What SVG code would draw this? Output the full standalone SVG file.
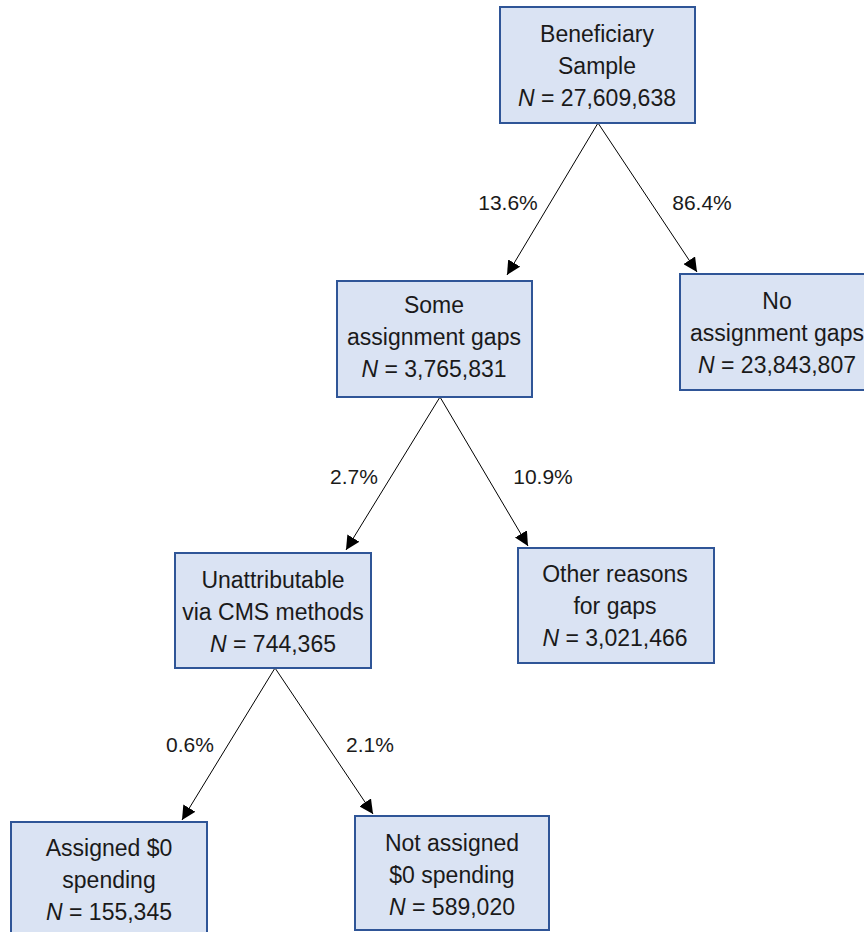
<svg xmlns="http://www.w3.org/2000/svg" width="864" height="932" viewBox="0 0 864 932">
<defs>
<style>
.box{fill:#dae3f3;stroke:#2f5597;stroke-width:2}
.t{font-family:"Liberation Sans",Arial,sans-serif;font-size:23px;fill:#1a1a1a;text-anchor:middle}
.p{font-family:"Liberation Sans",Arial,sans-serif;font-size:21px;fill:#1a1a1a;text-anchor:middle}
.c{stroke:#000;stroke-width:1;fill:none;marker-end:url(#ah)}
</style>
<marker id="ah" viewBox="0 0 10 10" refX="10" refY="5" markerWidth="14" markerHeight="14" markerUnits="userSpaceOnUse" orient="auto">
<path d="M0,0 L10,5 L0,10 z" fill="#000"/>
</marker>
</defs>
<rect width="864" height="932" fill="#fff"/>
<g id="connectors">
<line class="c" x1="598" y1="123" x2="507" y2="275"/>
<line class="c" x1="598" y1="123" x2="697" y2="272"/>
<line class="c" x1="440" y1="397" x2="346" y2="550"/>
<line class="c" x1="440" y1="397" x2="528" y2="546"/>
<line class="c" x1="275" y1="668" x2="182" y2="820"/>
<line class="c" x1="275" y1="668" x2="373" y2="814"/>
<text class="p" x="508" y="210">13.6%</text>
<text class="p" x="702" y="210">86.4%</text>
<text class="p" x="354" y="484">2.7%</text>
<text class="p" x="543" y="484">10.9%</text>
<text class="p" x="190" y="752">0.6%</text>
<text class="p" x="370" y="752">2.1%</text>
</g>
<g id="beneficiary">
<rect class="box" x="500" y="7" width="195" height="116"/>
<text class="t" x="597" y="42">Beneficiary</text>
<text class="t" x="597" y="74">Sample</text>
<text class="t" x="597" y="106"><tspan font-style="italic">N</tspan> = 27,609,638</text>
</g>
<g id="some">
<rect class="box" x="337" y="281" width="195" height="116"/>
<text class="t" x="434" y="313">Some</text>
<text class="t" x="434" y="345">assignment gaps</text>
<text class="t" x="434" y="377"><tspan font-style="italic">N</tspan> = 3,765,831</text>
</g>
<g id="no">
<rect class="box" x="680" y="274" width="195" height="116"/>
<text class="t" x="777" y="309">No</text>
<text class="t" x="777" y="341">assignment gaps</text>
<text class="t" x="777" y="373"><tspan font-style="italic">N</tspan> = 23,843,807</text>
</g>
<g id="unattributable">
<rect class="box" x="175" y="553" width="196" height="115"/>
<text class="t" x="273" y="588">Unattributable</text>
<text class="t" x="273" y="620">via CMS methods</text>
<text class="t" x="273" y="652"><tspan font-style="italic">N</tspan> = 744,365</text>
</g>
<g id="other">
<rect class="box" x="518" y="548" width="196" height="115"/>
<text class="t" x="615" y="582">Other reasons</text>
<text class="t" x="615" y="614">for gaps</text>
<text class="t" x="615" y="646"><tspan font-style="italic">N</tspan> = 3,021,466</text>
</g>
<g id="assigned">
<rect class="box" x="11" y="822" width="196" height="115"/>
<text class="t" x="109" y="856">Assigned $0</text>
<text class="t" x="109" y="888">spending</text>
<text class="t" x="109" y="920"><tspan font-style="italic">N</tspan> = 155,345</text>
</g>
<g id="not-assigned">
<rect class="box" x="355" y="816" width="194" height="114"/>
<text class="t" x="452" y="851">Not assigned</text>
<text class="t" x="452" y="883">$0 spending</text>
<text class="t" x="452" y="915"><tspan font-style="italic">N</tspan> = 589,020</text>
</g>
</svg>
